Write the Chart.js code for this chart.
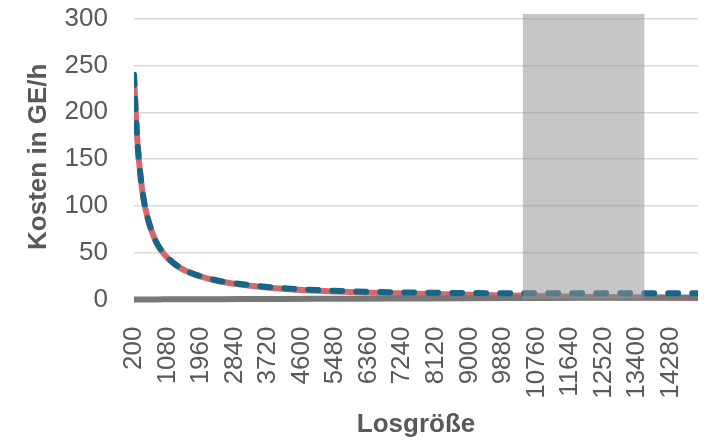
<!DOCTYPE html>
<html>
<head>
<meta charset="utf-8">
<script src="https://cdn.jsdelivr.net/npm/chart.js@4.4.1/dist/chart.umd.min.js"></script>
<style>
  body { margin: 0; background: #fff; }
  #wrap { width: 715px; height: 442px; }
</style>
</head>
<body>
<div id="wrap"><canvas id="chart"></canvas></div>
<script>
// Losgrößen (x) und Kosten in GE/h
const lotSizes = [200, 250, 300, 350, 400, 450, 500, 600, 700, 800, 1000, 1200, 1400, 1700, 2000,
  2500, 3000, 3500, 4000, 5000, 6000, 7000, 8000, 9000, 10000, 11000, 12000, 13000, 14000, 15000];
const ruestkosten = [240, 196, 163, 140, 122, 108, 97, 81, 69, 60, 48, 40, 34, 28, 24,
  19, 16, 13.6, 11.8, 9.4, 7.8, 6.7, 5.8, 5.1, 4.4, 3.7, 3.0, 2.4, 1.9, 1.5];
const lagerkosten = [0.03, 0.04, 0.04, 0.05, 0.06, 0.07, 0.07, 0.09, 0.1, 0.12, 0.15, 0.18, 0.21, 0.25, 0.29,
  0.37, 0.44, 0.51, 0.59, 0.73, 0.88, 1.03, 1.18, 1.32, 1.47, 1.62, 1.76, 1.91, 2.06, 2.2];
const gesamtkosten = [240, 196, 163, 140, 122, 108, 97, 81, 69, 60, 48, 40.2, 34.2, 28.3, 24.3,
  19.4, 16.5, 14.1, 12.4, 10.1, 8.7, 7.8, 7.2, 6.9, 6.7, 6.6, 6.6, 6.6, 6.6, 6.6];

const xTicks = [200, 1080, 1960, 2840, 3720, 4600, 5480, 6360, 7240, 8120, 9000, 9880,
  10760, 11640, 12520, 13400, 14280];
const yTicks = [0, 50, 100, 150, 200, 250, 300];

// grauer Bereich
const bandFrom = [10400, 13600];
const bandValue = 305;

const textColor = '#595959';
const font = 'Liberation Sans, Arial, sans-serif';
const lineClip = { left: 0, right: 0, top: 8, bottom: 8 };

function toPoints(values) {
  return lotSizes.map((x, i) => ({ x: x, y: values[i] }));
}

new Chart(document.getElementById('chart'), {
  type: 'line',
  data: {
    datasets: [
      {
        data: bandFrom.map((x) => ({ x: x, y: bandValue })),
        borderColor: 'transparent',
        backgroundColor: 'rgba(147,147,147,0.53)',
        fill: 'origin',
        pointRadius: 0,
        order: 0,
      },
      {
        data: toPoints(gesamtkosten),
        borderColor: '#176688',
        borderWidth: 6,
        borderDash: [10, 14],
        borderCapStyle: 'round',
        pointRadius: 0,
        cubicInterpolationMode: 'monotone',
        clip: lineClip,
        order: 1,
      },
      {
        data: toPoints(lagerkosten),
        borderColor: '#777777',
        borderWidth: 6,
        pointRadius: 0,
        clip: lineClip,
        order: 2,
      },
      {
        data: toPoints(ruestkosten),
        borderColor: '#d6686c',
        borderWidth: 6,
        pointRadius: 0,
        cubicInterpolationMode: 'monotone',
        clip: lineClip,
        order: 3,
      },
    ],
  },
  options: {
    responsive: true,
    maintainAspectRatio: false,
    animation: false,
    layout: { padding: { left: 0, right: 17, top: 14, bottom: 0 } },
    plugins: { legend: { display: false }, tooltip: { enabled: false } },
    scales: {
      x: {
        type: 'linear',
        min: 200,
        max: 15000,
        grid: { display: false },
        border: { display: false },
        afterBuildTicks: (axis) => { axis.ticks = xTicks.map((v) => ({ value: v })); },
        afterFit: (axis) => {
          axis.height = 142.5;
          axis.paddingLeft = 0;
          axis.paddingRight = 0;
        },
        ticks: {
          autoSkip: false,
          minRotation: 90,
          maxRotation: 90,
          padding: 19,
          color: textColor,
          font: { family: font, size: 26 },
          callback: (v) => String(v),
        },
        title: {
          display: true,
          text: 'Losgröße',
          color: textColor,
          font: { family: font, size: 26, weight: 'bold' },
          padding: { top: 0, bottom: 2 },
        },
      },
      y: {
        min: 0,
        max: bandValue,
        afterBuildTicks: (axis) => { axis.ticks = yTicks.map((v) => ({ value: v })); },
        afterFit: (axis) => {
          axis.width = 134;
          axis.paddingTop = 0;
          axis.paddingBottom = 0;
        },
        grid: { color: '#d9d9d9', lineWidth: 1.5, drawTicks: false },
        border: { display: false },
        ticks: {
          padding: 26,
          color: textColor,
          font: { family: font, size: 26 },
          callback: (v) => String(v),
        },
        title: {
          display: true,
          text: 'Kosten in GE/h',
          color: textColor,
          font: { family: font, size: 26, weight: 'bold' },
          padding: { top: 23, bottom: 0 },
        },
      },
    },
  },
});
</script>
</body>
</html>
